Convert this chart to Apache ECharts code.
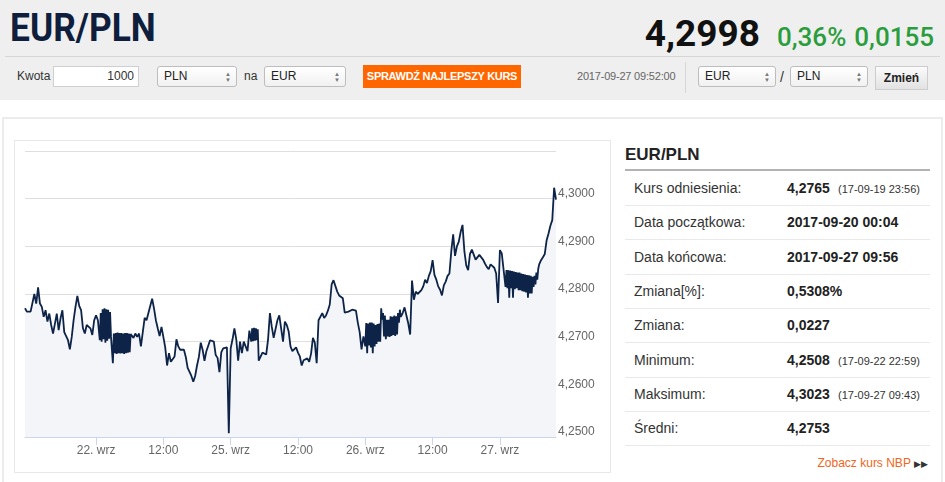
<!DOCTYPE html>
<html>
<head>
<meta charset="utf-8">
<script src="https://cdn.jsdelivr.net/npm/echarts@6/dist/echarts.min.js"></script>
<style>
  html, body { margin:0; padding:0; }
  body { width:945px; height:482px; overflow:hidden; position:relative; background:#fff; font-family:"Liberation Sans", Arial, sans-serif; color:#333; }
  .abs { position:absolute; }
  #header { left:0; top:0; width:945px; height:100px; background:#efefef; }
  #title { left:10px; top:9px; font-family:Roboto, sans-serif; font-weight:700; font-size:38px; line-height:38px; color:#0f1e3c; transform:scaleX(0.93); transform-origin:left top; white-space:nowrap; }
  #quote { right:11px; top:12px; display:flex; align-items:baseline; font-family:Roboto, sans-serif; white-space:nowrap; }
  #quote .rate { font-weight:700; font-size:37px; color:#111; margin-right:17px; }
  #quote .chg { font-weight:500; font-size:26px; color:#2a9d3c; }
  .sep { background:#d6d6d6; }
  .lbl { font-size:12px; line-height:21px; color:#333; }
  .inp { background:#fff; border:1px solid #cfcfcf; box-sizing:border-box; height:21px; font-size:12px; line-height:19px; text-align:right; padding-right:4px; }
  .sel { background:linear-gradient(#ffffff,#f1f1f1); border:1px solid #bdbdbd; border-radius:3px; box-sizing:border-box; height:21px; font-size:12px; line-height:19px; padding-left:6px; color:#222; }
  .sel .arr { position:absolute; right:5px; top:4px; font-size:6px; line-height:6px; color:#777; }
  #btn { left:363px; top:65px; width:158px; height:23px; background:#ff6600; color:#fff; font-weight:700; font-size:11px; line-height:23px; text-align:center; letter-spacing:-0.3px; }
  #stamp { left:577px; top:66px; font-size:11px; line-height:21px; color:#666; letter-spacing:-0.2px; }
  #zmien { left:875px; top:66px; width:53px; height:24px; box-sizing:border-box; border:1px solid #cdcdcd; background:linear-gradient(#fbfbfb,#e2e2e2); font-weight:700; font-size:12px; line-height:22px; text-align:center; color:#222; }
  #panel { left:2px; top:117px; width:937px; height:400px; border:2px solid #ececec; border-bottom:none; }
  #chartBox { left:14px; top:140px; width:595px; height:331px; border:1px solid #e8e8e8; }
  #chart { left:15px; top:141px; width:595px; height:331px; }
  #sideTitle { left:625px; top:146px; font-weight:700; font-size:17px; line-height:17px; color:#222; }
  #sideLine { left:625px; top:169px; width:305px; height:2px; background:#b3b3b3; }
  .row { position:absolute; left:625px; width:305px; height:34px; border-bottom:1px solid #e9e9e9; }
  .row .k { position:absolute; left:9px; top:0; line-height:34px; font-size:14px; color:#333; }
  .row .v { position:absolute; left:162px; top:0; line-height:34px; font-size:14px; font-weight:700; color:#222; }
  .row .n { position:absolute; left:213px; top:1px; line-height:34px; font-size:11px; color:#333; }
  #nbp { right:17px; top:455px; font-size:12px; line-height:16px; color:#f0661b; white-space:nowrap; }
  #nbp span { color:#333; font-size:9px; }
</style>
</head>
<body>
<div id="header" class="abs"></div>
<div id="title" class="abs">EUR/PLN</div>
<div id="quote" class="abs"><span class="rate">4,2998</span><span class="chg" style="margin-right:8px">0,36%</span><span class="chg">0,0155</span></div>
<div class="abs sep" style="left:5px;top:56px;width:935px;height:1px;"></div>

<div class="abs lbl" style="left:17px;top:66px;">Kwota</div>
<div class="abs inp" style="left:53px;top:66px;width:86px;">1000</div>
<div class="abs sel" style="left:157px;top:66px;width:80px;">PLN<span class="arr">▲<br>▼</span></div>
<div class="abs lbl" style="left:244px;top:66px;">na</div>
<div class="abs sel" style="left:264px;top:66px;width:82px;">EUR<span class="arr">▲<br>▼</span></div>
<div id="btn" class="abs">SPRAWDŹ NAJLEPSZY KURS</div>
<div id="stamp" class="abs">2017-09-27 09:52:00</div>
<div class="abs sep" style="left:685px;top:62px;width:1px;height:31px;"></div>
<div class="abs sel" style="left:698px;top:66px;width:78px;">EUR<span class="arr">▲<br>▼</span></div>
<div class="abs lbl" style="left:780px;top:67px;font-size:14px;">/</div>
<div class="abs sel" style="left:790px;top:66px;width:78px;">PLN<span class="arr">▲<br>▼</span></div>
<div id="zmien" class="abs">Zmień</div>

<div id="panel" class="abs"></div>
<div id="chartBox" class="abs"></div>
<div id="chart" class="abs"></div>

<div id="sideTitle" class="abs">EUR/PLN</div>
<div id="sideLine" class="abs"></div>
<div id="rows"></div>
<div id="nbp" class="abs">Zobacz kurs NBP <span>▶▶</span></div>

<script>
// Trading-time axis (weekend removed), hours counted from 22.09 00:00.
const startHour = -38 / 3;   // 21.09 11:20
const stepHours = 1 / 3;     // 20-minute samples
const rates = [
  4.2770,4.2763,4.2763,4.2763,4.2763,4.2800,4.2780,4.2814,4.2780,4.2773,
  4.2752,4.2766,4.2742,4.2759,4.2735,4.2717,4.2738,4.2759,4.2724,4.2749,
  4.2766,4.2720,4.2724,4.2703,4.2684,4.2710,4.2745,4.2773,4.2796,4.2775,
  4.2766,4.2728,4.2717,4.2735,4.2738,4.2728,4.2714,4.2745,4.2755,4.2745,
  4.2703,4.2700,4.2705,4.2698,4.2702,4.2706,4.2710,4.2655,4.2676,4.2674,
  4.2676,4.2675,4.2676,4.2674,4.2676,4.2677,4.2678,4.2717,4.2708,4.2717,
  4.2710,4.2717,4.2690,4.2720,4.2750,4.2745,4.2760,4.2760,4.2790,4.2770,
  4.2745,4.2728,4.2712,4.2731,4.2710,4.2688,4.2650,4.2676,4.2658,4.2662,
  4.2669,4.2705,4.2690,4.2683,4.2680,4.2683,4.2668,4.2645,4.2643,4.2628,
  4.2616,4.2628,4.2650,4.2668,4.2698,4.2683,4.2660,4.2680,4.2676,4.2703,
  4.2706,4.2700,4.2672,4.2666,4.2636,4.2678,4.2686,4.2687,4.2688,4.2508,
  4.2686,4.2705,4.2728,4.2705,4.2660,4.2700,4.2676,4.2700,4.2690,4.2680,
  4.2723,4.2700,4.2701,4.2702,4.2703,4.2660,4.2662,4.2677,4.2677,4.2673,
  4.2705,4.2760,4.2731,4.2708,4.2712,4.2745,4.2755,4.2752,4.2700,4.2742,
  4.2735,4.2722,4.2690,4.2680,4.2680,4.2688,4.2677,4.2669,4.2650,4.2661,
  4.2657,4.2665,4.2658,4.2675,4.2708,4.2698,4.2655,4.2745,4.2741,4.2760,
  4.2750,4.2755,4.2765,4.2778,4.2820,4.2829,4.2826,4.2805,4.2797,4.2794,
  4.2791,4.2761,4.2763,4.2763,4.2764,4.2767,4.2767,4.2765,4.2740,4.2720,
  4.2684,4.2711,4.2690,4.2676,4.2692,4.2688,4.2676,4.2690,4.2695,4.2700,
  4.2700,4.2746,4.2711,4.2705,4.2711,4.2710,4.2712,4.2714,4.2712,4.2715,
  4.2740,4.2752,4.2760,4.2772,4.2755,4.2738,4.2715,4.2828,4.2788,4.2805,
  4.2800,4.2797,4.2808,4.2816,4.2830,4.2823,4.2838,4.2848,4.2871,4.2840,
  4.2830,4.2816,4.2809,4.2797,4.2818,4.2826,4.2838,4.2843,4.2890,4.2925,
  4.2880,4.2900,4.2910,4.2930,4.2945,4.2890,4.2860,4.2850,4.2884,4.2893,
  4.2896,4.2872,4.2875,4.2882,4.2884,4.2872,4.2864,4.2857,4.2852,4.2862,
  4.2859,4.2855,4.2843,4.2781,4.2892,4.2885,4.2889,4.2815,4.2812,4.2792,
  4.2812,4.2792,4.2810,4.2812,4.2808,4.2808,4.2806,4.2805,4.2803,4.2792,
  4.2801,4.2801,4.2815,4.2820,4.2830,4.2862,4.2871,4.2877,4.2884,4.2913,
  4.2927,4.2943,4.2955,4.3023,4.2998
];
// Intra-interval swings (the other extreme reached within a 20-minute sample) in the choppy stretches.
const swingIndex = [
  40,41,42,43,44,45,
  47,48,49,50,51,52,53,54,55,56,
  121,122,123,124,
  182,183,184,185,186,187,188,189,190,191,192,193,194,195,196,197,198,199,200,
  257,258,259,260,261,262,263,264,265,266,267,268,269,270,271,272,273,274
];
const swingRate = [
  4.2760,4.2768,4.2770,4.2768,4.2767,4.2762,
  4.2717,4.2718,4.2719,4.2718,4.2718,4.2717,4.2718,4.2718,4.2717,4.2716,
  4.2728,4.2729,4.2728,4.2726,
  4.2739,4.2738,4.2740,4.2740,4.2738,4.2735,4.2737,4.2738,
  4.2770,4.2760,4.2755,4.2746,4.2746,4.2753,4.2752,4.2755,4.2753,4.2760,4.2767,
  4.2850,4.2850,4.2849,4.2848,4.2847,4.2846,4.2845,4.2845,4.2843,4.2842,4.2841,4.2840,4.2839,4.2838,4.2836,4.2838,4.2845,4.2853
];
const tickHours = [0, 12, 24, 36, 48, 60, 72];
const tickLabels = ['22. wrz', '12:00', '25. wrz', '12:00', '26. wrz', '12:00', '27. wrz'];
const yMin = 4.25, yMax = 4.31, yStep = 0.01;

const tableRows = [
  ['Kurs odniesienia:', '4,2765', '(17-09-19 23:56)'],
  ['Data początkowa:', '2017-09-20 00:04', ''],
  ['Data końcowa:', '2017-09-27 09:56', ''],
  ['Zmiana[%]:', '0,5308%', ''],
  ['Zmiana:', '0,0227', ''],
  ['Minimum:', '4,2508', '(17-09-22 22:59)'],
  ['Maksimum:', '4,3023', '(17-09-27 09:43)'],
  ['Średni:', '4,2753', '']
];

// Side table
const rowsEl = document.getElementById('rows');
tableRows.forEach((r, i) => {
  const d = document.createElement('div');
  d.className = 'row';
  d.style.top = (171 + i * 34.35) + 'px';
  d.innerHTML = '<span class="k">' + r[0] + '</span><span class="v">' + r[1] + '</span>' +
    (r[2] ? '<span class="n">' + r[2] + '</span>' : '');
  rowsEl.appendChild(d);
});

const swingAt = {};
swingIndex.forEach((idx, k) => { swingAt[idx] = swingRate[k]; });
const seriesData = [];
rates.forEach((v, i) => {
  const h = startHour + i * stepHours;
  seriesData.push([h, v]);
  if (swingAt[i] !== undefined) seriesData.push([h + stepHours / 2, swingAt[i]]);
});

const chart = echarts.init(document.getElementById('chart'), null, { renderer: 'canvas' });
chart.setOption({
  animation: false,
  grid: { left: 10, top: 10, right: 54, bottom: 35, containLabel: false },
  xAxis: {
    type: 'value',
    min: startHour,
    max: startHour + (rates.length - 1) * stepHours,
    axisLine: { show: true, lineStyle: { color: '#ccd6eb', width: 1 } },
    axisTick: { show: true, customValues: tickHours, length: 8, lineStyle: { color: '#ccd6eb' } },
    axisLabel: {
      customValues: tickHours,
      margin: 8,
      color: '#666',
      fontSize: 12,
      fontFamily: 'Liberation Sans, Arial, sans-serif',
      formatter: function (v) {
        const k = tickHours.findIndex(t => Math.abs(t - v) < 1e-6);
        return k >= 0 ? tickLabels[k] : '';
      }
    },
    splitLine: { show: false }
  },
  yAxis: {
    type: 'value',
    position: 'right',
    min: yMin, max: yMax, interval: yStep,
    axisLine: { show: false },
    axisTick: { show: false },
    axisLabel: {
      margin: 2,
      color: '#666',
      fontSize: 12,
      fontFamily: 'Liberation Sans, Arial, sans-serif',
      verticalAlign: 'bottom',
      lineHeight: 10,
      formatter: function (v) {
        if (Math.abs(v - yMax) < 1e-9) return '';
        return v.toFixed(4).replace('.', ',');
      }
    },
    splitLine: { show: true, lineStyle: { color: '#dedede', width: 1 } }
  },
  series: [{
    type: 'line',
    data: seriesData,
    showSymbol: false,
    symbol: 'none',
    sampling: null,
    lineStyle: { color: '#0d2448', width: 1.8 },
    areaStyle: { color: '#f3f5f8', opacity: 1, origin: 'start' },
    silent: true
  }]
});
</script>
</body>
</html>
